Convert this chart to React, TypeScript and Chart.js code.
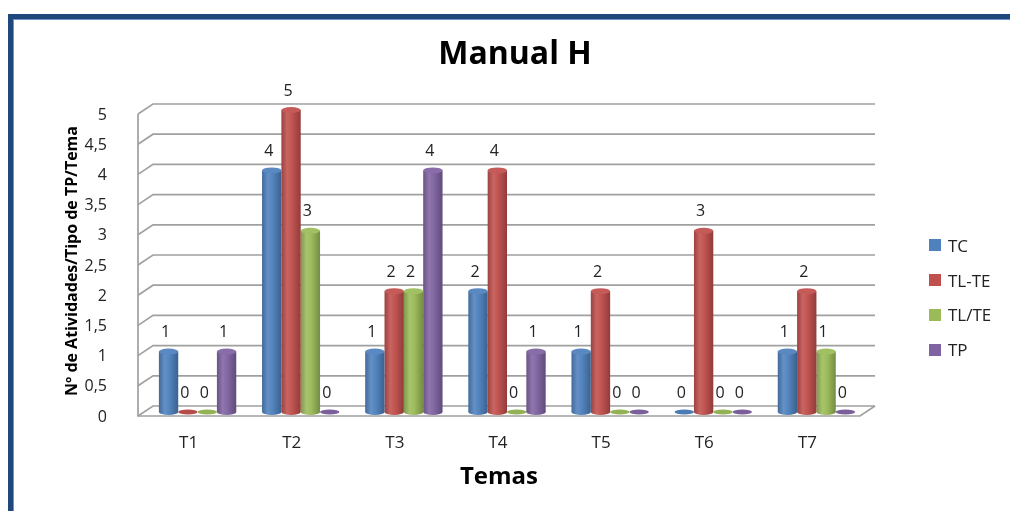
import React, { useEffect, useRef } from 'react';
import { Chart, registerables } from 'chart.js';

Chart.register(...registerables);

// ---- data ----
const categories = ['T1', 'T2', 'T3', 'T4', 'T5', 'T6', 'T7'];
const seriesNames = ['TC', 'TL-TE', 'TL/TE', 'TP'];
const tcValues = [1, 4, 1, 2, 1, 0, 1];
const tlTeDashValues = [0, 5, 2, 4, 2, 3, 2];
const tlTeSlashValues = [0, 3, 2, 0, 0, 0, 1];
const tpValues = [1, 0, 4, 1, 0, 0, 0];
const seriesColors = ['#4F81BD', '#C0504D', '#9BBB59', '#8064A2'];
const yMin = 0;
const yMax = 5;
const yStep = 0.5;
const chartTitle = 'Manual H';
const xAxisTitle = 'Temas';
const yAxisTitle = 'Nº de Atividades/Tipo de TP/Tema';

const FONT = "'Open Sans', sans-serif";

function shade(hex: string, amt: number): string {
  const n = parseInt(hex.slice(1), 16);
  let r = (n >> 16) & 255;
  let g = (n >> 8) & 255;
  let b = n & 255;
  const f = (c: number) =>
    Math.round(amt >= 0 ? c + (255 - c) * amt : c * (1 + amt));
  r = f(r);
  g = f(g);
  b = f(b);
  return `rgb(${r},${g},${b})`;
}

function cylGradient(ctx: CanvasRenderingContext2D, x: number, w: number, color: string) {
  const g = ctx.createLinearGradient(x - w / 2, 0, x + w / 2, 0);
  g.addColorStop(0, shade(color, -0.18));
  g.addColorStop(0.3, shade(color, 0.12));
  g.addColorStop(0.55, shade(color, 0.02));
  g.addColorStop(1, shade(color, -0.25));
  return g;
}

const depthPlugin = {
  id: 'depth3d',
  beforeDatasetsDraw(chart: any) {
    const { ctx, chartArea, scales } = chart;
    const ys = scales.y;
    const left = chartArea.left;
    const right = chartArea.right;
    const fx = left - 8;
    const bx = left + 7;
    const brx = right + 7;
    const frx = right - 8;
    ctx.save();
    ctx.strokeStyle = '#a0a0a0';
    ctx.lineWidth = 1.7;
    for (let v = yMin; v <= yMax + 1e-9; v += yStep) {
      const ym = ys.getPixelForValue(v);
      ctx.beginPath();
      ctx.moveTo(fx, ym + 4);
      ctx.lineTo(bx, ym - 6);
      ctx.lineTo(brx, ym - 6);
      ctx.stroke();
    }
    const y0 = ys.getPixelForValue(yMin);
    const y5 = ys.getPixelForValue(yMax);
    ctx.beginPath();
    ctx.moveTo(fx, y5 + 4);
    ctx.lineTo(fx, y0 + 4);
    ctx.lineTo(frx, y0 + 4);
    ctx.lineTo(brx, y0 - 6);
    ctx.stroke();
    ctx.restore();

    // cylinder shading for bars
    chart.data.datasets.forEach((ds: any, di: number) => {
      const meta = chart.getDatasetMeta(di);
      const color = seriesColors[di];
      meta.data.forEach((el: any) => {
        const { x, width } = el.getProps(['x', 'width'], true);
        el.options = { ...el.options, backgroundColor: cylGradient(ctx, x, width, color) };
      });
    });
  },
  afterDatasetsDraw(chart: any) {
    const { ctx } = chart;
    ctx.save();
    chart.data.datasets.forEach((ds: any, di: number) => {
      const meta = chart.getDatasetMeta(di);
      const color = seriesColors[di];
      meta.data.forEach((el: any, i: number) => {
        const { x, y, base, width } = el.getProps(['x', 'y', 'base', 'width'], true);
        const v = ds.data[i];
        const rx = width / 2;
        if (v > 0) {
          ctx.fillStyle = cylGradient(ctx, x, width, color);
          ctx.beginPath();
          ctx.ellipse(x, base, rx, 3, 0, 0, Math.PI * 2);
          ctx.fill();
          ctx.fillStyle = shade(color, 0.06);
          ctx.beginPath();
          ctx.ellipse(x, y, rx, 3, 0, 0, Math.PI * 2);
          ctx.fill();
        } else {
          ctx.fillStyle = shade(color, -0.05);
          ctx.beginPath();
          ctx.ellipse(x, base, rx, 2.5, 0, 0, Math.PI * 2);
          ctx.fill();
        }
        // value label
        ctx.fillStyle = '#222';
        ctx.font = `16px ${FONT}`;
        ctx.textAlign = 'center';
        ctx.textBaseline = 'middle';
        ctx.fillText(String(v), x - 3, y - 19);
      });
    });

    // chart title
    ctx.fillStyle = '#000';
    ctx.font = `bold 32px ${FONT}`;
    ctx.textAlign = 'center';
    ctx.textBaseline = 'middle';
    ctx.fillText(chartTitle, 515, 55);

    // x axis title (centred on the front floor edge)
    const ca = chart.chartArea;
    ctx.font = `bold 24px ${FONT}`;
    ctx.fillText(xAxisTitle, (ca.left + ca.right) / 2 - 8, 477);
    ctx.restore();
  },
};

export default function App() {
  const canvasRef = useRef<HTMLCanvasElement | null>(null);

  useEffect(() => {
    if (!canvasRef.current) return;
    const valueSets = [tcValues, tlTeDashValues, tlTeSlashValues, tpValues];
    const chart = new Chart(canvasRef.current, {
      type: 'bar',
      data: {
        labels: categories,
        datasets: seriesNames.map((name, i) => ({
          label: name,
          data: valueSets[i],
          backgroundColor: seriesColors[i],
          borderWidth: 0,
          categoryPercentage: 0.75,
          barPercentage: 1.0,
        })),
      },
      options: {
        responsive: false,
        animation: false,
        events: [],
        layout: { padding: { top: 110, right: 142, bottom: 0, left: 0 } },
        plugins: {
          legend: { display: false },
          title: { display: false },
          tooltip: { enabled: false },
        },
        scales: {
          x: {
            grid: { display: false },
            border: { display: false },
            ticks: {
              labelOffset: -9,
              padding: 13,
              color: '#222',
              font: { family: FONT, size: 17 },
            },
            afterFit: (s: any) => {
              s.height = 99;
            },
          },
          y: {
            min: yMin,
            max: yMax,
            grid: { display: false },
            border: { display: false },
            ticks: {
              stepSize: yStep,
              padding: 31,
              labelOffset: 5,
              color: '#222',
              font: { family: FONT, size: 16 },
              callback: (v: any) => String(v).replace('.', ','),
            },
            title: {
              display: true,
              text: yAxisTitle,
              color: '#000',
              font: { family: FONT, size: 16, weight: 'bold' },
              padding: { top: 63, bottom: 0 },
            },
            afterFit: (s: any) => {
              s.width = 146;
            },
          },
        },
      },
      plugins: [depthPlugin],
    } as any);
    return () => chart.destroy();
  }, []);

  const legendTops = [245, 280, 314.5, 349.5];

  return (
    <div
      style={{
        position: 'absolute',
        left: 0,
        top: 0,
        width: 1010,
        height: 511,
        overflow: 'hidden',
        background: '#fff',
      }}
    >
      <canvas
        ref={canvasRef}
        width={1010}
        height={511}
        style={{ position: 'absolute', left: 0, top: 0, display: 'block' }}
      />
      <div
        style={{
          position: 'absolute',
          left: 8,
          top: 14,
          width: 1100,
          height: 600,
          borderTop: '5px solid #1F497D',
          borderLeft: '5px solid #1F497D',
          boxShadow: 'inset 1px 1px 0 #6f93c2',
          boxSizing: 'border-box',
          pointerEvents: 'none',
        }}
      />
      {seriesNames.map((name, i) => (
        <div
          key={name}
          style={{
            position: 'absolute',
            left: 929,
            top: legendTops[i] - 11,
            height: 22,
            display: 'flex',
            alignItems: 'center',
            fontFamily: FONT,
            fontSize: 17,
            color: '#222',
            whiteSpace: 'nowrap',
          }}
        >
          <span
            style={{
              display: 'inline-block',
              width: 12,
              height: 12,
              background: seriesColors[i],
              marginRight: 7,
            }}
          />
          {name}
        </div>
      ))}
    </div>
  );
}
